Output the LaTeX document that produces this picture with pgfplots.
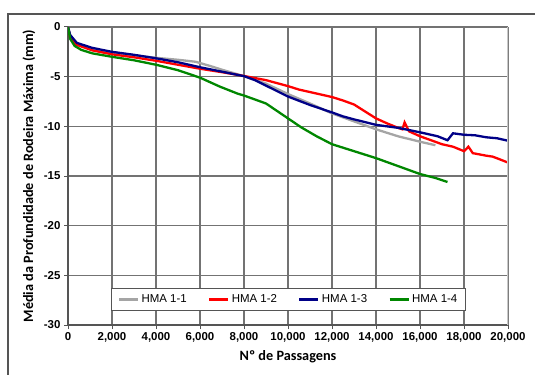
\documentclass[border=0pt]{standalone}
\usepackage{fontspec}
\setmainfont{Liberation Sans}
\newfontfamily\carlito{Carlito}
\usepackage{pgfplots}
\pgfplotsset{compat=1.18}
\definecolor{hmagray}{RGB}{165,165,165}
\definecolor{hmared}{RGB}{255,0,0}
\definecolor{hmablue}{RGB}{0,0,135}
\definecolor{hmagreen}{RGB}{0,135,0}
\definecolor{gridgray}{RGB}{115,115,115}
\definecolor{framegray}{RGB}{85,85,85}
\begin{document}
\begin{tikzpicture}[x=1bp,y=1bp]
\useasboundingbox (0,0) rectangle (535,374);
\draw[line width=1.8bp, framegray] (8,-5) -- (8,360) -- (540,360);
\begin{axis}[
  at={(68bp,49bp)}, anchor=south west,
  scale only axis, width=440bp, height=298bp,
  xmin=0, xmax=20000, ymin=-30, ymax=0,
  scaled x ticks=false,
  xtick={0,2000,4000,6000,8000,10000,12000,14000,16000,18000,20000},
  xticklabels={0,{2,000},{4,000},{6,000},{8,000},{10,000},{12,000},{14,000},{16,000},{18,000},{20,000}},
  ytick={-30,-25,-20,-15,-10,-5,0},
  yticklabels={-30,-25,-20,-15,-10,-5,0},
  tick label style={font=\fontsize{11.5}{13}\selectfont\bfseries},
  axis lines=left,
  axis line style={-, line width=1.2bp, color=framegray},
  grid=major,
  major grid style={color=gridgray, line width=1.2bp},
  tick align=outside,
  major tick length=4bp,
  tick style={line width=1bp, color=framegray},
  xlabel={\carlito\bfseries Nº de Passagens},
  ylabel={\carlito\bfseries Média da Profundidade de Rodeira Máxima (mm)},
  xlabel style={at={(axis description cs:0.5,-0.107)}, anchor=center, font=\fontsize{14.3}{16}\selectfont},
  ylabel style={at={(axis description cs:-0.0886,0.5)}, anchor=center, font=\fontsize{14.3}{16}\selectfont},
  legend columns=4,
  legend style={at={(axis description cs:0.501,0.0856)}, anchor=center,
    draw=framegray, line width=1.2bp, fill=white,
    font=\fontsize{11.5}{13}\selectfont, inner xsep=6bp, inner ysep=4bp,
    /tikz/every odd column/.append style={column sep=0bp},
    /tikz/every even column/.append style={column sep=19bp}},
  legend image code/.code={\draw[#1, line width=3bp] (0bp,0bp) -- (19bp,0bp);},
]
\addplot[hmagray, line width=2.3bp] coordinates {
(0,0) (100,-0.9) (400,-1.65) (1100,-2.2) (2000,-2.55) (3000,-2.85) (4000,-3.1)
(5000,-3.3) (5800,-3.5) (6500,-3.95) (7000,-4.3) (8000,-4.95) (9000,-5.7)
(10000,-6.75) (11000,-7.7) (12000,-8.7) (13000,-9.5) (14000,-10.3) (15000,-11.0)
(16000,-11.55) (16700,-11.9)};
\addlegendentry{HMA 1-1}
\addplot[hmared, line width=2.3bp] coordinates {
(0,0) (100,-1.1) (400,-1.8) (1100,-2.35) (2000,-2.75) (3000,-3.05) (4000,-3.4)
(5000,-3.8) (6000,-4.2) (7000,-4.55) (8000,-4.93) (9000,-5.35) (10000,-5.95)
(10500,-6.3) (11000,-6.55) (12000,-7.05) (12500,-7.4) (13000,-7.8) (13500,-8.5)
(14000,-9.2) (14500,-9.7) (15000,-10.15) (15200,-10.3) (15300,-9.6) (15500,-10.5)
(16000,-11.0) (16500,-11.4) (17000,-11.8) (17500,-12.05) (18000,-12.5) (18200,-12.05)
(18400,-12.7) (19000,-12.95) (19300,-13.05) (19600,-13.3) (20000,-13.65)};
\addlegendentry{HMA 1-2}
\addplot[hmablue, line width=2.3bp] coordinates {
(0,0) (100,-0.8) (400,-1.6) (1100,-2.1) (2000,-2.5) (3000,-2.8) (4000,-3.15)
(5000,-3.55) (6000,-4.05) (7000,-4.5) (8000,-4.95) (8500,-5.35) (9000,-5.9)
(10000,-7.0) (11000,-7.85) (12000,-8.6) (12500,-9.0) (13000,-9.3) (14000,-9.85)
(15000,-10.15) (16000,-10.6) (16800,-11.0) (17250,-11.4) (17500,-10.7) (18000,-10.85)
(18500,-10.9) (19000,-11.1) (19500,-11.2) (20000,-11.45)};
\addlegendentry{HMA 1-3}
\addplot[hmagreen, line width=2.3bp] coordinates {
(0,0) (100,-1.2) (300,-1.9) (600,-2.3) (1100,-2.65) (2000,-3.0) (3000,-3.35)
(4000,-3.8) (5000,-4.35) (6000,-5.1) (6900,-6.0) (7700,-6.7) (8000,-6.9)
(9000,-7.7) (10000,-9.2) (10600,-10.1) (11300,-11.0) (12000,-11.8) (13000,-12.5)
(14000,-13.2) (15000,-14.0) (16000,-14.8) (16700,-15.2) (17250,-15.6)};
\addlegendentry{HMA 1-4}
\draw[line width=1.2bp, color={rgb,255:red,200;green,200;blue,200}] (axis cs:20000,-30) -- (axis cs:20000,0);
\end{axis}
\end{tikzpicture}
\end{document}
